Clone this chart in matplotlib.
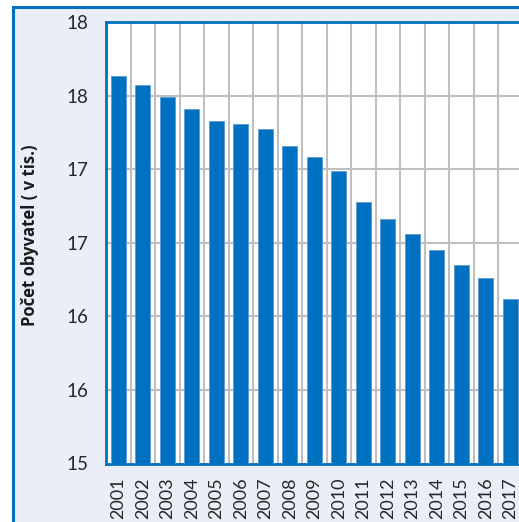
import numpy as np
import matplotlib
matplotlib.use('Agg')
import matplotlib.pyplot as plt
from matplotlib.patches import Rectangle

# population (thousands)
years = ['2001', '2002', '2003', '2004', '2005', '2006', '2007', '2008', '2009',
         '2010', '2011', '2012', '2013', '2014', '2015', '2016', '2017']
population = [17.63, 17.57, 17.49, 17.41, 17.33, 17.31, 17.27, 17.16, 17.08,
              16.99, 16.78, 16.66, 16.56, 16.45, 16.35, 16.26, 16.12]
y_ticks = [15, 15.5, 16, 16.5, 17, 17.5, 18]
y_tick_labels = ['15', '16', '16', '17', '17', '18', '18']

blue = '#0070C0'
panel = '#EAEFF7'
grid = '#BFBFBF'

W, H = 519, 522
fig = plt.figure(figsize=(W / 100, H / 100), dpi=100)
fig.patch.set_facecolor('white')

# outer chart frame (cropped at right and bottom)
frame = Rectangle((12.5 / W, -0.1), 1.2, 1 - 7 / H + 0.1, transform=fig.transFigure,
                  facecolor=panel, edgecolor=blue, lw=2.2, zorder=0)
fig.add_artist(frame)

ax = fig.add_axes([106 / W, 1 - 463.5 / H, 416.5 / W, 441.5 / H])
ax.set_facecolor('white')

x = np.arange(len(years))
ax.bar(x, population, width=0.61, color=blue, edgecolor='#5B9BD5', lw=0.6, zorder=3)

ax.set_xlim(-0.5, len(years) - 0.5)
ax.set_ylim(15, 18)
ax.set_yticks(y_ticks)
ax.set_yticklabels(y_tick_labels, fontsize=13.5, family='Lato', color='#262626')
ax.set_xticks(x)
ax.set_xticklabels(years, rotation=90, fontsize=13, family='Lato', color='#262626')
ax.set_xticks(np.arange(len(years) - 1) + 0.5, minor=True)
ax.tick_params(axis='both', which='both', length=0)
ax.tick_params(axis='y', pad=13)
ax.tick_params(axis='x', pad=10)

ax.grid(axis='y', which='major', color=grid, lw=1.5, zorder=0)
ax.grid(axis='x', which='minor', color=grid, lw=1.5, zorder=0)
ax.set_axisbelow(True)

for s in ax.spines.values():
    s.set_color(blue)
    s.set_linewidth(2)

fig.text(30 / W, 1 - 235 / H, 'Počet obyvatel ( v tis.)', rotation=90,
         ha='center', va='center', fontsize=12, fontweight='bold',
         family='Open Sans', color='#1a1a1a')

fig.savefig('out.png', dpi=100, facecolor=fig.get_facecolor())
